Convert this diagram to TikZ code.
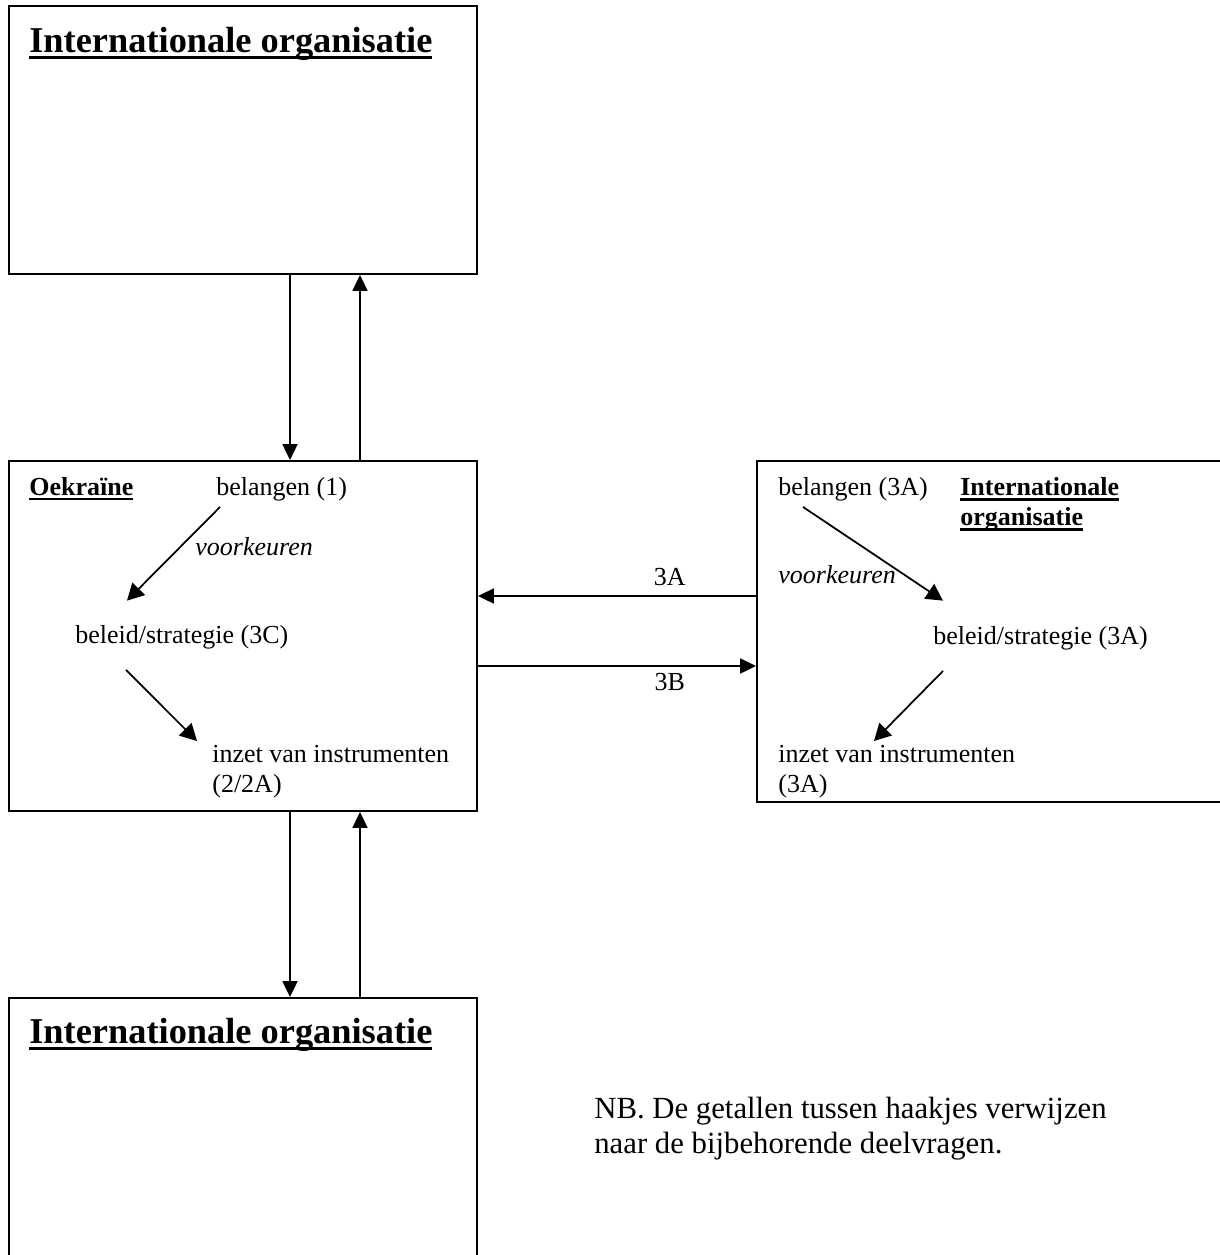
\documentclass[tikz,border=0pt]{standalone}
\usepackage{fontspec}
\setmainfont{Liberation Serif}
\usetikzlibrary{arrows.meta,fit}
\newcommand{\onderlijn}[1]{\setbox0\hbox{#1}\rlap{\rule[-0.2em]{\wd0}{0.09em}}\box0}
\tikzset{
  vak/.style={draw,line width=1.1pt,inner sep=0pt},
  txt/.style={font=\fontsize{14.8}{17.1}\selectfont,inner sep=0pt,anchor=base west},
  vet/.style={txt,font=\fontsize{14.8}{17.1}\selectfont\bfseries},
  schuin/.style={txt,font=\fontsize{14.8}{17.1}\selectfont\itshape},
  kop/.style={txt,font=\fontsize{20.7}{24}\selectfont\bfseries},
  pijl/.style={line width=1pt,-{Triangle[length=9pt,width=8.5pt]}},
  schuinpijl/.style={line width=1pt,-{Triangle[length=9.5pt,width=10pt]}}
}
\begin{document}
\begin{tikzpicture}[x=0.02cm,y=-0.02cm]
    \useasboundingbox (0,0) rectangle (1220,1255);
    \clip (0,0) rectangle (1220,1255);

    % — Boxes
    \node[vak,fit={(9,6) (477,274)}] (topvak) {};
    \node[vak,fit={(9,461) (477,811)}] (oekvak) {};
    \node[vak,fit={(757,461) (1240,802)}] (orgvak) {};
    \node[vak,fit={(9,998) (477,1280)}] (ondervak) {};

    % — Titles of the outer organisations
    \node[kop] (topkop)   at (29,52)   {\onderlijn{Internationale organisatie}};
    \node[kop] (onderkop) at (29,1043) {\onderlijn{Internationale organisatie}};

    % — Oekraine
    \node[vet]    (oek)    at (29,495)  {\onderlijn{Oekraïne}};
    \node[txt]    (bel1)   at (216,495) {belangen (1)};
    \node[schuin] (vk1)    at (195,555) {voorkeuren};
    \node[txt]    (strat1) at (75,643)  {beleid/strategie (3C)};
    \node[txt,anchor=north west,align=left] (inz1) at (212,745) {inzet van instrumenten\\(2/2A)};

    % — Internationale organisatie (right)
    \node[txt]    (bel2)   at (778,495) {belangen (3A)};
    \node[vet,anchor=north west,align=left] (org) at (960,477) {\onderlijn{Internationale}\\\onderlijn{organisatie}};
    \node[schuin] (vk2)    at (778,583) {voorkeuren};
    \node[txt]    (strat2) at (933,644) {beleid/strategie (3A)};
    \node[txt,anchor=north west,align=left] (inz2) at (778,745) {inzet van instrumenten\\(3A)};

    % — Note
    \node[txt,anchor=north west,align=left,font=\fontsize{17.5}{19.9}\selectfont] (nb) at (594,1097)
      {NB. De getallen tussen haakjes verwijzen\\naar de bijbehorende deelvragen.};

    % — Vertical arrows
    \draw[pijl] ([shift={(47,0)}]topvak.south) -- ([shift={(47,0)}]oekvak.north);
    \draw[pijl] ([shift={(117,0)}]oekvak.north) -- ([shift={(117,0)}]topvak.south);
    \draw[pijl] ([shift={(47,0)}]oekvak.south) -- ([shift={(47,0)}]ondervak.north);
    \draw[pijl] ([shift={(117,0)}]ondervak.north) -- ([shift={(117,0)}]oekvak.south);

    % — Horizontal arrows
    \coordinate (h3A) at (0,596);
    \coordinate (h3B) at (0,666);
    \draw[pijl] (orgvak.west |- h3A) -- (oekvak.east |- h3A)
      node[txt,anchor=south,pos=0.31,yshift=0.18cm] (l3A) {3A};
    \draw[pijl] (oekvak.east |- h3B) -- (orgvak.west |- h3B)
      node[txt,anchor=north,pos=0.69,yshift=-0.12cm] (l3B) {3B};

    % — Arrows inside the boxes
    \draw[schuinpijl] ([shift={(4,6)}]bel1.south west) -- ([shift={(52,-24)}]strat1.north west);
    \draw[schuinpijl] ([shift={(51,21)}]strat1.south west) -- ([shift={(-15,-4)}]inz1.north west);
    \draw[schuinpijl] ([shift={(25,6)}]bel2.south west) -- ([shift={(10,-25)}]strat2.north west);
    \draw[schuinpijl] ([shift={(10,21)}]strat2.south west) -- ([shift={(96,-4)}]inz2.north west);
\end{tikzpicture}
\end{document}
